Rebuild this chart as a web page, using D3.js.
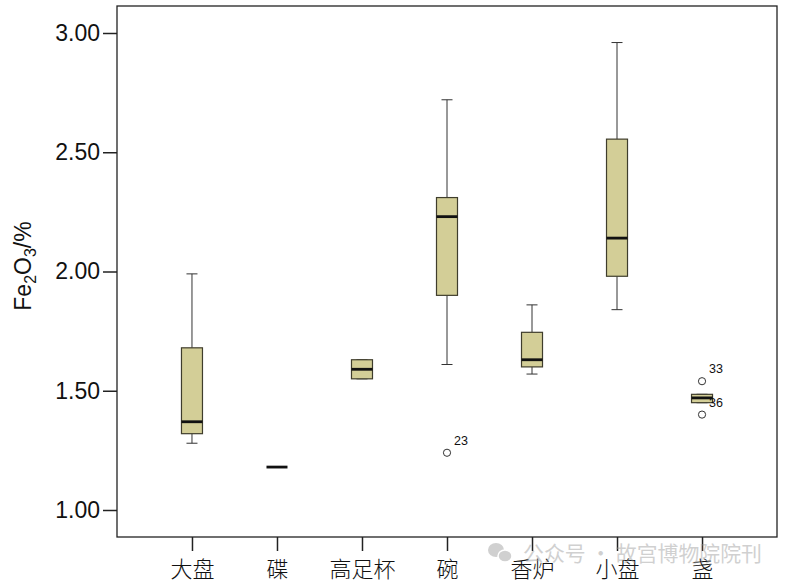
<!DOCTYPE html>
<html>
<head>
<meta charset="utf-8">
<script src="https://cdn.jsdelivr.net/npm/d3@7/dist/d3.min.js"></script>
<style>
  html, body { margin: 0; padding: 0; background: #fff; }
  svg { display: block; }
</style>
</head>
<body>
<svg id="chart" width="786" height="583"></svg>
<script>
// ---- data ----
const categories  = ["大盘", "碟", "高足杯", "碗", "香炉", "小盘", "盏"];
const whiskerLow  = [1.28, 1.18, 1.55, 1.61, 1.57, 1.84, 1.45];
const q1          = [1.32, 1.18, 1.55, 1.90, 1.60, 1.98, 1.45];
const medians     = [1.37, 1.18, 1.59, 2.23, 1.63, 2.14, 1.47];
const q3          = [1.68, 1.18, 1.63, 2.31, 1.745, 2.555, 1.485];
const whiskerHigh = [1.99, 1.18, 1.63, 2.72, 1.86, 2.96, 1.485];
const outlierCats   = ["碗", "盏", "盏"];
const outlierValues = [1.24, 1.54, 1.40];
const outlierLabels = ["23", "33", "36"];
const yTicks = [1.00, 1.50, 2.00, 2.50, 3.00];

(function () {
// ---- layout ----
const pl = 117, pr = 777, pt = 6, pb = 537;
const svg = d3.select("#chart");

const y = d3.scaleLinear()
  .domain([1 - 27 / 238.5, 3 + 27 / 238.5])
  .range([pb, pt]);
const x = d3.scalePoint()
  .domain(categories)
  .range([pl, pr])
  .padding(0.882);

const boxW = 21, capW = 11;
const fill = "#d3ce97", edge = "#3f3d2c";

// frame
svg.append("rect")
  .attr("x", pl).attr("y", pt)
  .attr("width", pr - pl).attr("height", pb - pt)
  .attr("fill", "none").attr("stroke", "#222").attr("stroke-width", 1.3);

// y axis
const yAxis = svg.append("g")
  .attr("transform", `translate(${pl},0)`)
  .call(d3.axisLeft(y).tickValues(yTicks).tickFormat(d3.format(".2f")).tickSize(14).tickPadding(3));
yAxis.select(".domain").remove();
yAxis.selectAll("line").attr("stroke", "#222").attr("stroke-width", 1.5);
yAxis.selectAll("text")
  .attr("font-family", "'Liberation Sans', Arial, sans-serif")
  .attr("font-size", 23).attr("fill", "#111");

// x axis
const xAxis = svg.append("g")
  .attr("transform", `translate(0,${pb})`)
  .call(d3.axisBottom(x).tickSize(14).tickPadding(8));
xAxis.select(".domain").remove();
xAxis.selectAll("line").attr("stroke", "#222").attr("stroke-width", 1.5);
xAxis.selectAll("text")
  .attr("font-family", "'Noto Sans CJK SC', sans-serif")
  .attr("font-weight", 300)
  .attr("font-size", 22).attr("fill", "#111")
  .attr("dy", "0.83em");

// y title
const yt = svg.append("text")
  .attr("transform", "translate(31,266) rotate(-90)")
  .attr("text-anchor", "middle")
  .attr("font-family", "'Liberation Sans', Arial, sans-serif")
  .attr("font-size", 23).attr("fill", "#111");
yt.append("tspan").text("Fe");
yt.append("tspan").attr("font-size", 16).attr("dy", 5).text("2");
yt.append("tspan").attr("dy", -5).text("O");
yt.append("tspan").attr("font-size", 16).attr("dy", 5).text("3");
yt.append("tspan").attr("dy", -5).text("/%");

// boxes
const rows = categories.map((c, i) => ({
  c, lo: whiskerLow[i], q1: q1[i], med: medians[i], q3: q3[i], hi: whiskerHigh[i]
}));
const g = svg.append("g");
rows.forEach(d => {
  const cx = x(d.c);
  const allSame = d.lo === d.hi;
  if (!allSame) {
    g.append("line").attr("x1", cx).attr("x2", cx).attr("y1", y(d.hi)).attr("y2", y(d.q3))
      .attr("stroke", "#333").attr("stroke-width", 1);
    g.append("line").attr("x1", cx).attr("x2", cx).attr("y1", y(d.q1)).attr("y2", y(d.lo))
      .attr("stroke", "#333").attr("stroke-width", 1);
    g.append("line").attr("x1", cx - capW / 2).attr("x2", cx + capW / 2).attr("y1", y(d.hi)).attr("y2", y(d.hi))
      .attr("stroke", "#333").attr("stroke-width", 1);
    g.append("line").attr("x1", cx - capW / 2).attr("x2", cx + capW / 2).attr("y1", y(d.lo)).attr("y2", y(d.lo))
      .attr("stroke", "#333").attr("stroke-width", 1);
    g.append("rect")
      .attr("x", cx - boxW / 2).attr("y", y(d.q3))
      .attr("width", boxW).attr("height", y(d.q1) - y(d.q3))
      .attr("fill", fill).attr("stroke", edge).attr("stroke-width", 1.2);
  }
  g.append("line")
    .attr("x1", cx - boxW / 2).attr("x2", cx + boxW / 2)
    .attr("y1", y(d.med)).attr("y2", y(d.med))
    .attr("stroke", "#111").attr("stroke-width", 2.8);
});

// outliers
outlierValues.forEach((v, i) => {
  const cx = x(outlierCats[i]), cy = y(v);
  g.append("circle").attr("cx", cx).attr("cy", cy).attr("r", 3.6)
    .attr("fill", "#fff").attr("stroke", "#333").attr("stroke-width", 1);
  g.append("text").attr("x", cx + 7).attr("y", cy - 8)
    .attr("font-family", "'Liberation Sans', Arial, sans-serif")
    .attr("font-size", 12.5).attr("fill", "#111")
    .text(outlierLabels[i]);
});

// watermark
const wm = svg.append("g").attr("opacity", 0.45);
wm.append("ellipse").attr("cx", 496).attr("cy", 550).attr("rx", 8).attr("ry", 7).attr("fill", "#999");
wm.append("ellipse").attr("cx", 505).attr("cy", 556).attr("rx", 7).attr("ry", 6).attr("fill", "#999")
  .attr("stroke", "#fff").attr("stroke-width", 1.5);
wm.append("text").attr("x", 523).attr("y", 561)
  .attr("font-family", "'Noto Sans CJK SC', sans-serif")
  .attr("font-size", 21).attr("fill", "#999")
  .attr("textLength", 239).attr("lengthAdjust", "spacingAndGlyphs")
  .text("公众号 · 故宫博物院院刊");
})();
</script>
</body>
</html>
